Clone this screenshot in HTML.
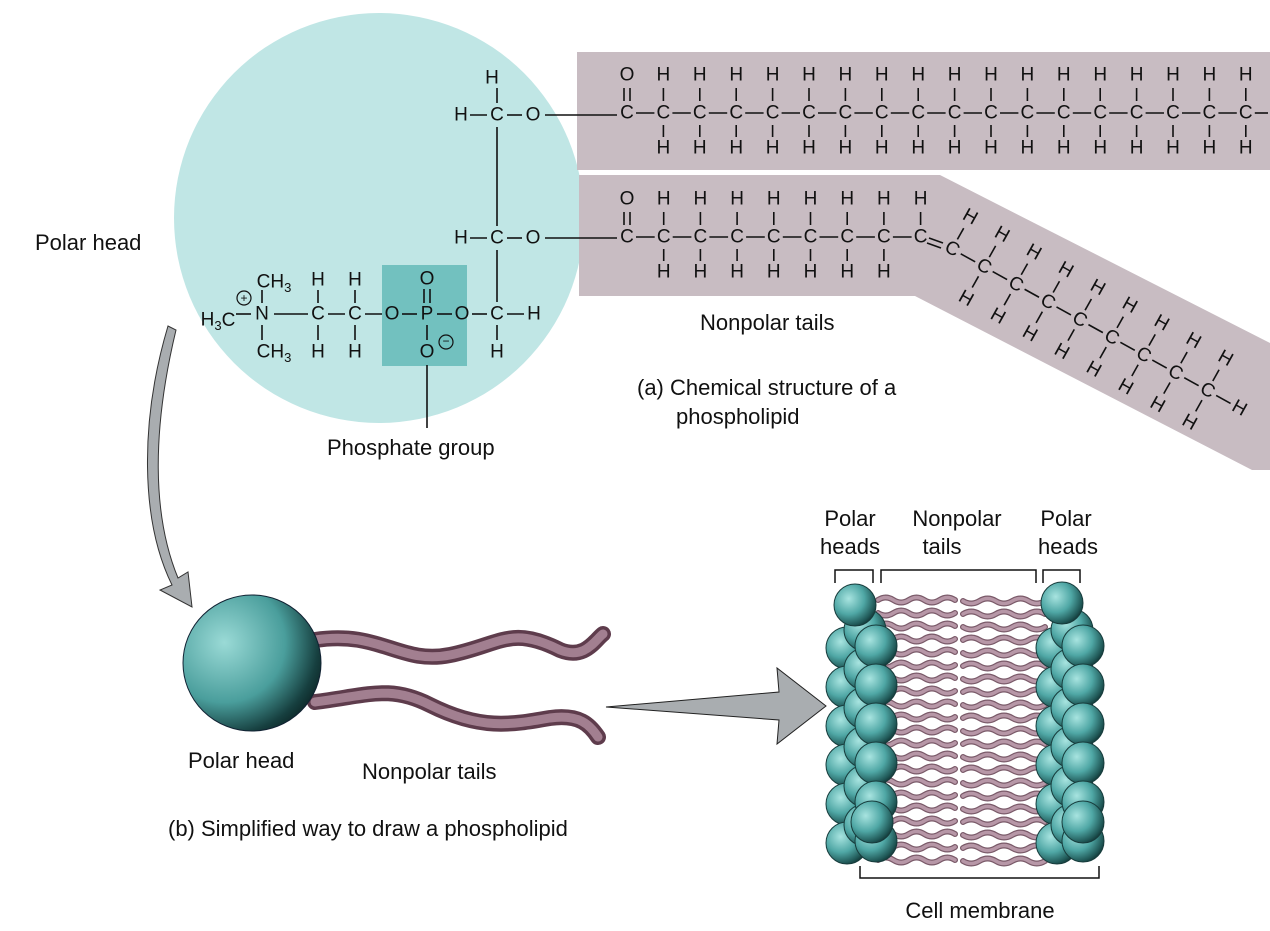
<!DOCTYPE html>
<html><head><meta charset="utf-8">
<style>
html,body{margin:0;padding:0;background:#fff;}
svg{display:block;font-family:"Liberation Sans",Arial,sans-serif;}
.a{font-size:19px;fill:#111;text-anchor:middle;dominant-baseline:central;}
.l{font-size:22px;fill:#111;}
</style></head>
<body>
<svg id="s" width="1270" height="931" viewBox="0 0 1270 931" xmlns="http://www.w3.org/2000/svg">
<defs>
<radialGradient id="ball" cx="0.35" cy="0.35" r="0.75">
<stop offset="0" stop-color="#a8e4e0"/><stop offset="0.5" stop-color="#4fa7a5"/><stop offset="0.85" stop-color="#1f5655"/><stop offset="1" stop-color="#0e2a2a"/>
</radialGradient>
<radialGradient id="bigball" cx="0.3" cy="0.35" r="0.8">
<stop offset="0" stop-color="#9adad6"/><stop offset="0.55" stop-color="#4a9e9c"/><stop offset="0.85" stop-color="#163f3f"/><stop offset="1" stop-color="#0a1f1f"/>
</radialGradient>
</defs>
<!-- head circle -->
<circle cx="379" cy="218" r="205" fill="#c0e6e5"/>
<rect x="382" y="265" width="85" height="101" fill="#72c1bf"/>
<!-- tail bands -->
<rect x="577" y="52" width="693" height="118" fill="#c8bcc2"/>
<polygon points="579,175 940,175 1270,343 1270,470 1252,470 915,296 579,296" fill="#c8bcc2"/>
<g id="chem" stroke="#111" stroke-width="1.6" fill="none">
<line x1="545" y1="115" x2="617" y2="115"/>
<line x1="545" y1="238" x2="617" y2="238"/>
<line x1="497" y1="127" x2="497" y2="226"/>
<line x1="497" y1="250" x2="497" y2="302"/>
<line x1="497" y1="88" x2="497" y2="103"/>
<line x1="470" y1="115" x2="487" y2="115"/><line x1="507" y1="115" x2="522" y2="115"/>
<line x1="470" y1="238" x2="487" y2="238"/><line x1="507" y1="238" x2="522" y2="238"/>
<line x1="472" y1="314" x2="487" y2="314"/><line x1="507" y1="314" x2="524" y2="314"/>
<line x1="497" y1="325" x2="497" y2="340"/>
<line x1="437" y1="314" x2="452" y2="314"/><line x1="402" y1="314" x2="417" y2="314"/>
<line x1="365" y1="314" x2="382" y2="314"/><line x1="328" y1="314" x2="345" y2="314"/>
<line x1="274" y1="314" x2="308" y2="314"/>
<line x1="424" y1="289" x2="424" y2="303"/><line x1="430" y1="289" x2="430" y2="303"/>
<line x1="427" y1="325" x2="427" y2="340"/>
<line x1="318" y1="290" x2="318" y2="303"/><line x1="318" y1="325" x2="318" y2="340"/>
<line x1="355" y1="290" x2="355" y2="303"/><line x1="355" y1="325" x2="355" y2="340"/>
<line x1="262" y1="290" x2="262" y2="303"/><line x1="262" y1="325" x2="262" y2="340"/>
<line x1="236" y1="314" x2="251" y2="314"/>
<line x1="427" y1="365" x2="427" y2="428"/>
</g>
<g class="a">
<text x="492" y="78" class="a">H</text>
<text x="461" y="115" class="a">H</text><text x="497" y="115" class="a">C</text><text x="533" y="115" class="a">O</text>
<text x="461" y="238" class="a">H</text><text x="497" y="238" class="a">C</text><text x="533" y="238" class="a">O</text>
<text x="497" y="314" class="a">C</text><text x="534" y="314" class="a">H</text><text x="497" y="352" class="a">H</text>
<text x="462" y="314" class="a">O</text><text x="427" y="314" class="a">P</text><text x="427" y="279" class="a">O</text>
<text x="427" y="352" class="a">O</text><text x="392" y="314" class="a">O</text>
<text x="355" y="314" class="a">C</text><text x="318" y="314" class="a">C</text>
<text x="318" y="280" class="a">H</text><text x="355" y="280" class="a">H</text>
<text x="318" y="352" class="a">H</text><text x="355" y="352" class="a">H</text>
<text x="262" y="314" class="a">N</text>
<text x="274" y="282" class="a">CH<tspan font-size="13" dy="5">3</tspan></text>
<text x="274" y="352" class="a">CH<tspan font-size="13" dy="5">3</tspan></text>
<text x="218" y="320" class="a">H<tspan font-size="13" dy="5">3</tspan><tspan dy="-5">C</tspan></text>
</g>
<circle cx="244" cy="298" r="7" fill="none" stroke="#111" stroke-width="1.2"/>
<text x="244" y="298" class="a" style="font-size:12px">+</text>
<circle cx="446" cy="342" r="7" fill="none" stroke="#111" stroke-width="1.2"/>
<text x="446" y="341" class="a" style="font-size:12px">−</text>
<g id="gen"></g>
<!-- labels -->
<text x="35" y="250" class="l">Polar head</text>
<text x="700" y="330" class="l">Nonpolar tails</text>
<text x="637" y="395" class="l">(a) Chemical structure of a</text>
<text x="676" y="424" class="l">phospholipid</text>
<text x="327" y="455" class="l">Phosphate group</text>
<!-- curved arrow -->
<path d="M168,326 C140,420 140,520 172,585 L160,590 L192,607 L188,572 L178,578 C152,515 152,430 176,330 Z" fill="#a9adb0" stroke="#333" stroke-width="1"/>
<!-- simple phospholipid -->
<path d="M315,640 C380,630 400,665 450,655 C500,645 510,625 560,650 C585,660 595,640 603,634" stroke="#5e3c4c" stroke-width="16" fill="none" stroke-linecap="round"/>
<path d="M315,640 C380,630 400,665 450,655 C500,645 510,625 560,650 C585,660 595,640 603,634" stroke="#a27f90" stroke-width="9" fill="none" stroke-linecap="round"/>
<path d="M315,702 C370,695 390,685 430,705 C480,730 510,725 550,718 C580,714 590,725 598,737" stroke="#5e3c4c" stroke-width="16" fill="none" stroke-linecap="round"/>
<path d="M315,702 C370,695 390,685 430,705 C480,730 510,725 550,718 C580,714 590,725 598,737" stroke="#a27f90" stroke-width="9" fill="none" stroke-linecap="round"/>
<ellipse cx="252" cy="663" rx="69" ry="68" fill="url(#bigball)" stroke="#123" stroke-width="1"/>
<polygon points="606,707 779,692 777,668 826,706 777,744 779,720" fill="#a9adb0" stroke="#222" stroke-width="1"/>
<text x="188" y="768" class="l">Polar head</text>
<text x="362" y="779" class="l">Nonpolar tails</text>
<text x="168" y="836" class="l">(b) Simplified way to draw a phospholipid</text>
<!-- membrane labels -->
<g class="l" text-anchor="middle">
<text x="850" y="526">Polar</text><text x="850" y="554">heads</text>
<text x="957" y="526">Nonpolar</text><text x="942" y="554">tails</text>
<text x="1066" y="526">Polar</text><text x="1068" y="554">heads</text>
<text x="980" y="918">Cell membrane</text>
</g>
<g stroke="#111" stroke-width="1.5" fill="none">
<path d="M835,583 V570 H873 V583"/><path d="M881,583 V570 H1036 V583"/><path d="M1043,583 V570 H1080 V583"/>
<path d="M860,866 V878 H1099 V866"/>
</g>
<g id="mem"></g>
</svg>
<script>
var NS="http://www.w3.org/2000/svg";
function el(p,t,a,txt){var e=document.createElementNS(NS,t);for(var k in a)e.setAttribute(k,a[k]);if(txt)e.textContent=txt;p.appendChild(e);return e;}
var g=document.getElementById('gen');
function T(x,y,s,rot){var a={x:x,y:y,'class':'a'};if(rot)a.transform='rotate('+rot+' '+x+' '+y+')';el(g,'text',a,s);}
function L(x1,y1,x2,y2){el(g,'line',{x1:x1,y1:y1,x2:x2,y2:y2,stroke:'#111','stroke-width':1.6});}
// top chain
var xs=[];for(var i=0;i<18;i++)xs.push(627+i*36.4);
xs.forEach(function(x,i){T(x,113,'C');
 L(x+9,113,Math.min(x+27.4,1268),113);
 if(i==0){T(x,75,'O');L(x-3,88,x-3,101);L(x+3,88,x+3,101);}
 else{T(x,75,'H');T(x,148,'H');L(x,88,x,101);L(x,125,x,137);}
});
// second chain
for(var i=0;i<9;i++){var x=627+i*36.7;T(x,237,'C');
 if(i<8)L(x+9,237,x+27.7,237);
 if(i==0){T(x,199,'O');L(x-3,212,x-3,225);L(x+3,212,x+3,225);}
 else{T(x,199,'H');L(x,212,x,225);if(i<8){T(x,272,'H');L(x,249,x,261);}}
}
// double bond to diagonal
L(929,238,943,243);L(927,243,941,248);
var ang=29*Math.PI/180,c=Math.cos(ang),s=Math.sin(ang),d=36.5;
for(var j=0;j<9;j++){var x=952+j*d*c,y=249+j*d*s;T(x,y,'C',29);
 var px=18,py=-32;
 T(x+px,y+py,'H',29);L(x+px*0.3,y+py*0.3,x+px*0.65,y+py*0.65);
 if(j>0){T(x-px,y-py,'H',29);L(x-px*0.3,y-py*0.3,x-px*0.65,y-py*0.65);}
 L(x+c*10,y+s*10,x+c*(d-10),y+s*(d-10));
}
T(952+9*d*c,249+9*d*s,'H',29);
// membrane
var m=document.getElementById('mem');
function tail(x1,x2,y,ph){var dd='M'+x1+','+y;var n=5,w=(x2-x1)/n;for(var k=0;k<n;k++){var xa=x1+w*k;var sg=((k+ph)%2?1:-1)*5;dd+=' Q'+(xa+w/2)+','+(y+sg)+' '+(xa+w)+','+y;}
 el(m,'path',{d:dd,stroke:'#7a5a69','stroke-width':6,fill:'none','stroke-linecap':'round'});
 el(m,'path',{d:dd,stroke:'#b797a7','stroke-width':3.5,fill:'none','stroke-linecap':'round'});}
for(var y=600;y<=862;y+=13){var ph=Math.round(y/13)%2;tail(878,955,y,ph);tail(963,1045,y+1,1-ph);}
function ball(x,y){el(m,'circle',{cx:x,cy:y,r:21,fill:'url(#ball)',stroke:'#173c3c','stroke-width':1});}
for(var k=0;k<6;k++){var y=648+k*39;ball(847,y);ball(1057,y);}
for(var k=0;k<6;k++){var y=630+k*39;ball(865,y);ball(1072,y);}
ball(855,605);ball(1062,603);
for(var k=0;k<6;k++){var y=646+k*39;ball(876,y);ball(1083,y);}
ball(872,822);ball(1083,822);
</script>
</body></html>
